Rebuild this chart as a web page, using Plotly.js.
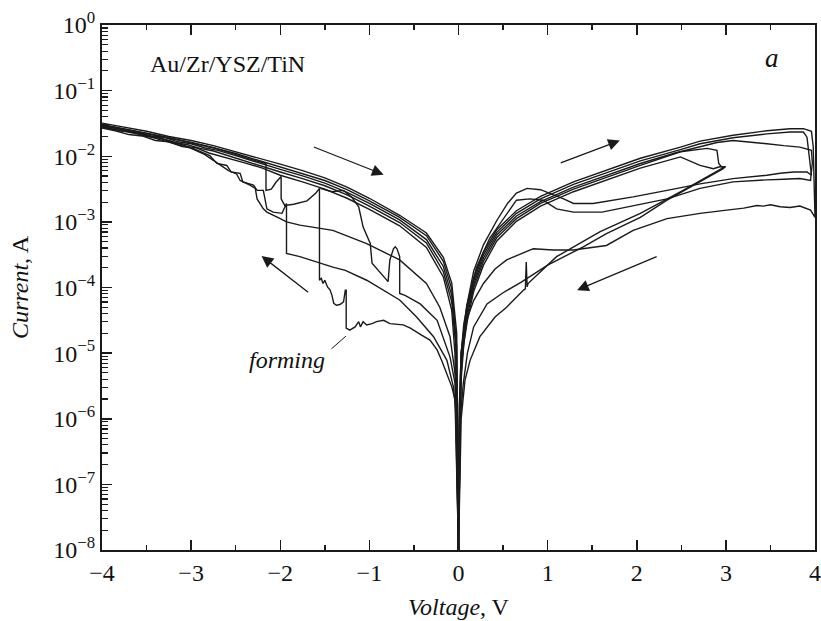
<!DOCTYPE html>
<html>
<head>
<meta charset="utf-8">
<script src="https://cdn.plot.ly/plotly-3.0.1.min.js"></script>
<style>html,body{margin:0;padding:0;background:#fff;}#chart{width:821px;height:621px;}</style>
</head>
<body>
<div id="chart"></div>
<script>
// ---------- negative branch, low-resistance sweeps (-4 V -> 0) ----------
const nl1V = [-4, -3.75, -3.5, -3.25, -3, -2.75, -2.5, -2.25, -2, -1.75, -1.5, -1.25, -1, -0.66, -0.36, -0.17, -0.076, -0.02, 0];
const nl1I = [3.2e-2, 2.75e-2, 2.4e-2, 2.0e-2, 1.74e-2, 1.45e-2, 1.17e-2, 9.55e-3, 7.59e-3, 6.03e-3, 4.68e-3, 3.39e-3, 2.29e-3, 1.26e-3, 6.76e-4, 2.88e-4, 1.17e-4, 2.0e-5, 1e-8];
const nl2V = [-4, -3.75, -3.5, -3.25, -3, -2.75, -2.5, -2.25, -2, -1.75, -1.5, -1.25, -1, -0.66, -0.36, -0.17, -0.076, -0.02, 0];
const nl2I = [3.02e-2, 2.63e-2, 2.24e-2, 1.91e-2, 1.62e-2, 1.35e-2, 1.10e-2, 8.71e-3, 6.92e-3, 5.50e-3, 4.27e-3, 3.09e-3, 2.09e-3, 1.17e-3, 6.17e-4, 2.51e-4, 9.55e-5, 1.26e-5, 1e-8];
const nl3V = [-4, -3.8, -3.6, -3.45, -3.3, -3.15, -3.0, -2.85, -2.7, -2.5, -2.25, -2, -1.75, -1.5, -1.25, -1, -0.66, -0.36, -0.17, -0.076, -0.03, 0];
const nl3I = [2.95e-2, 2.63e-2, 2.34e-2, 2.04e-2, 1.95e-2, 1.66e-2, 1.55e-2, 1.35e-2, 1.23e-2, 1.02e-2, 8.13e-3, 6.31e-3, 5.01e-3, 3.89e-3, 2.82e-3, 1.91e-3, 1.07e-3, 5.37e-4, 2.09e-4, 7.59e-5, 1.58e-5, 1e-8];
const nl4V = [-4, -3.8, -3.65, -3.5, -3.35, -3.2, -3.05, -2.9, -2.75, -2.5, -2.25, -2, -1.75, -1.5, -1.25, -1, -0.66, -0.36, -0.17, -0.076, -0.03, 0];
const nl4I = [2.82e-2, 2.45e-2, 2.34e-2, 2.0e-2, 1.91e-2, 1.62e-2, 1.51e-2, 1.32e-2, 1.20e-2, 9.33e-3, 7.41e-3, 5.75e-3, 4.57e-3, 3.55e-3, 2.57e-3, 1.74e-3, 9.77e-4, 4.79e-4, 1.74e-4, 6.03e-5, 1.26e-5, 1e-8];
const nl5V = [-4, -3.85, -3.7, -3.55, -3.4, -3.25, -3.1, -2.95, -2.8, -2.6, -2.4, -2.2, -2, -1.75, -1.5, -1.25, -1, -0.66, -0.36, -0.17, -0.076, -0.04, 0];
const nl5I = [2.69e-2, 2.45e-2, 2.14e-2, 2.04e-2, 1.74e-2, 1.66e-2, 1.41e-2, 1.35e-2, 1.12e-2, 9.55e-3, 7.94e-3, 6.61e-3, 5.13e-3, 4.07e-3, 3.16e-3, 2.29e-3, 1.55e-3, 8.71e-4, 4.07e-4, 1.45e-4, 4.47e-5, 1.0e-5, 1e-8];

// ---------- negative branch, high-resistance sweeps (0 -> -4 V) ----------
const formV = [0, -0.039, -0.076, -0.13, -0.19, -0.24, -0.32, -0.41, -0.47, -0.54, -0.62, -0.69, -0.77, -0.84, -0.92, -0.97, -1.03, -1.07, -1.10, -1.12, -1.16, -1.22, -1.26, -1.26, -1.27, -1.29, -1.33, -1.37, -1.40, -1.42, -1.44, -1.47, -1.50, -1.52, -1.54, -1.56, -1.56, -1.60, -1.70, -1.85, -1.95, -1.99, -1.99, -2.05, -2.10, -2.16, -2.16, -2.30, -2.5, -2.75, -3.0, -3.5, -4.0];
const formI = [1e-8, 1.95e-6, 3.09e-6, 4.90e-6, 7.76e-6, 1.12e-5, 1.58e-5, 1.86e-5, 2.09e-5, 2.40e-5, 2.69e-5, 2.75e-5, 2.82e-5, 3.16e-5, 3.02e-5, 2.82e-5, 2.69e-5, 3.02e-5, 2.51e-5, 3.02e-5, 2.51e-5, 2.24e-5, 2.40e-5, 9.12e-5, 9.12e-5, 6.03e-5, 5.50e-5, 5.37e-5, 5.75e-5, 7.59e-5, 9.12e-5, 1.02e-4, 1.29e-4, 1.15e-4, 1.38e-4, 1.29e-4, 3.24e-3, 2.75e-3, 2.09e-3, 1.86e-3, 1.78e-3, 2.24e-3, 4.90e-3, 3.98e-3, 3.16e-3, 3.02e-3, 7.76e-3, 8.71e-3, 1.07e-2, 1.35e-2, 1.62e-2, 2.24e-2, 3.02e-2];
const wV = [0, -0.039, -0.095, -0.24, -0.43, -0.60, -0.66, -0.66, -0.69, -0.71, -0.73, -0.75, -0.77, -0.79, -0.97, -0.99, -1.07, -1.12, -1.20, -1.29, -1.42, -1.55];
const wI = [1e-8, 3.47e-6, 8.71e-6, 3.16e-5, 5.62e-5, 7.59e-5, 8.13e-5, 2.95e-4, 3.89e-4, 4.17e-4, 3.89e-4, 3.16e-4, 2.63e-4, 1.23e-4, 2.34e-4, 4.68e-4, 8.32e-4, 1.70e-3, 2.40e-3, 3.02e-3, 2.88e-3, 3.24e-3];
const hupV = [0, -0.03, -0.095, -0.21, -0.36, -0.66, -1.03, -1.41, -1.78, -1.93, -2.00, -2.15, -2.19, -2.26, -2.28, -2.34, -2.45, -2.49, -2.58, -2.75, -2.85, -3.0, -3.25, -3.5, -3.75, -4];
const hupI = [1e-8, 3.98e-6, 1.78e-5, 5.01e-5, 1.15e-4, 2.63e-4, 4.68e-4, 7.41e-4, 8.91e-4, 1.0e-3, 1.12e-3, 1.41e-3, 1.58e-3, 2.24e-3, 3.24e-3, 3.63e-3, 4.27e-3, 5.37e-3, 6.03e-3, 8.71e-3, 1.07e-2, 1.32e-2, 1.66e-2, 2.04e-2, 2.40e-2, 2.75e-2];
const hlowV = [0, -0.02, -0.058, -0.13, -0.28, -0.47, -0.66, -1.03, -1.27, -1.41, -1.78, -1.93, -1.93, -1.98, -2.08, -2.15, -2.19, -2.26, -2.30, -2.42, -2.45, -2.55, -2.60, -2.71, -2.79, -3.0, -3.25, -3.5, -3.75, -4];
const hlowI = [1e-8, 1.0e-6, 3.09e-6, 7.76e-6, 1.78e-5, 3.55e-5, 6.46e-5, 1.29e-4, 1.82e-4, 2.04e-4, 2.95e-4, 3.31e-4, 1.91e-3, 1.35e-3, 1.41e-3, 1.58e-3, 3.02e-3, 3.02e-3, 3.63e-3, 4.07e-3, 5.50e-3, 5.75e-3, 7.24e-3, 7.76e-3, 1.02e-2, 1.35e-2, 1.74e-2, 2.09e-2, 2.51e-2, 2.88e-2];

// ---------- positive branch: 0 -> +V (LRS) then back (HRS) ----------
const p1V = [0, 0.01, 0.03, 0.06, 0.1, 0.17, 0.28, 0.43, 0.65, 0.92, 1.29, 1.66, 2.04, 2.49, 2.71, 3.08, 3.46, 3.72, 3.87, 3.96, 3.98, 3.99, 4.0, 3.95, 3.83, 3.72, 3.61, 3.5, 3.42, 3.35, 3.2, 3.01, 2.71, 2.34, 1.96, 1.66, 1.29, 1.06, 0.84, 0.80, 0.54, 0.41, 0.28, 0.17, 0.09, 0.03, 0];
const p1I = [1e-8, 1.58e-6, 1.0e-5, 2.82e-5, 5.62e-5, 1.41e-4, 3.47e-4, 7.59e-4, 1.48e-3, 2.45e-3, 4.07e-3, 6.17e-3, 9.33e-3, 1.38e-2, 1.70e-2, 2.09e-2, 2.45e-2, 2.63e-2, 2.63e-2, 2.40e-2, 1.41e-2, 3.98e-3, 1.17e-3, 1.51e-3, 1.74e-3, 1.66e-3, 1.70e-3, 1.82e-3, 1.74e-3, 1.78e-3, 1.62e-3, 1.51e-3, 1.35e-3, 1.12e-3, 7.41e-4, 4.37e-4, 3.72e-4, 3.72e-4, 3.89e-4, 3.72e-4, 2.63e-4, 1.91e-4, 1.15e-4, 6.31e-5, 3.16e-5, 6.31e-6, 1e-8];
const p2V = [0, 0.01, 0.03, 0.06, 0.1, 0.17, 0.28, 0.43, 0.65, 0.92, 1.29, 1.66, 2.04, 2.49, 2.71, 3.08, 3.46, 3.72, 3.87, 3.91, 3.95, 3.96, 3.91, 3.76, 3.61, 3.46, 3.08, 2.71, 2.34, 1.96, 1.51, 1.29, 1.18, 1.03, 0.92, 0.77, 0.65, 0.55, 0.43, 0.28, 0.17, 0.09, 0.03, 0.01, 0];
const p2I = [1e-8, 1.26e-6, 7.94e-6, 2.40e-5, 5.01e-5, 1.26e-4, 3.16e-4, 6.92e-4, 1.35e-3, 2.24e-3, 3.72e-3, 5.62e-3, 8.51e-3, 1.26e-2, 1.55e-2, 1.91e-2, 2.19e-2, 2.34e-2, 2.34e-2, 1.95e-2, 5.50e-3, 5.13e-3, 5.75e-3, 5.75e-3, 5.50e-3, 5.13e-3, 4.57e-3, 3.80e-3, 3.02e-3, 2.40e-3, 1.91e-3, 1.91e-3, 2.24e-3, 2.69e-3, 3.09e-3, 3.24e-3, 2.75e-3, 1.91e-3, 1.05e-3, 4.47e-4, 1.78e-4, 5.01e-5, 1.0e-5, 1.58e-6, 1e-8];
const p3V = [0, 0.01, 0.03, 0.06, 0.1, 0.17, 0.28, 0.43, 0.65, 0.92, 1.29, 1.66, 2.04, 2.43, 2.71, 2.90, 3.08, 3.27, 3.46, 3.65, 3.83, 3.96, 3.97, 3.95, 3.83, 3.65, 3.46, 3.08, 2.71, 2.34, 1.96, 1.61, 1.29, 1.10, 0.95, 0.80, 0.65, 0.5, 0.35, 0.2, 0.1, 0.03, 0];
const p3I = [1e-8, 1.0e-6, 6.31e-6, 2.0e-5, 4.47e-5, 1.12e-4, 2.82e-4, 6.31e-4, 1.23e-3, 2.04e-3, 3.39e-3, 5.13e-3, 7.76e-3, 1.12e-2, 1.38e-2, 1.62e-2, 1.74e-2, 1.66e-2, 1.55e-2, 1.45e-2, 1.38e-2, 1.23e-2, 7.94e-3, 4.27e-3, 4.57e-3, 4.47e-3, 4.37e-3, 4.07e-3, 3.24e-3, 2.24e-3, 1.78e-3, 1.41e-3, 1.41e-3, 1.58e-3, 2.14e-3, 2.24e-3, 2.14e-3, 1.12e-3, 5.62e-4, 2.0e-4, 5.62e-5, 1.0e-5, 1e-8];
const p4V = [0, 0.01, 0.03, 0.06, 0.1, 0.17, 0.28, 0.43, 0.65, 0.92, 1.29, 1.66, 2.04, 2.49, 2.79, 2.90, 2.92, 2.95, 3.0, 2.99, 2.52, 2.04, 1.59, 1.10, 0.78, 0.77, 0.76, 0.75, 0.73, 0.54, 0.41, 0.24, 0.13, 0.073, 0.03, 0];
const p4I = [1e-8, 7.94e-7, 5.01e-6, 1.66e-5, 3.80e-5, 1.0e-4, 2.51e-4, 5.75e-4, 1.12e-3, 1.91e-3, 3.16e-3, 4.79e-3, 7.24e-3, 1.17e-2, 1.32e-2, 1.23e-2, 7.76e-3, 6.92e-3, 6.92e-3, 6.92e-3, 3.02e-3, 1.35e-3, 7.08e-4, 2.95e-4, 1.15e-4, 1.02e-4, 2.45e-4, 9.55e-5, 9.12e-5, 5.01e-5, 3.55e-5, 1.78e-5, 7.76e-6, 3.89e-6, 1.0e-6, 1e-8];
const p5V = [0, 0.01, 0.03, 0.06, 0.1, 0.17, 0.28, 0.43, 0.65, 0.92, 1.29, 1.66, 2.04, 2.49, 2.71, 2.86, 2.93, 2.99, 2.97, 2.34, 2.04, 1.66, 1.40, 1.0, 0.7, 0.5, 0.32, 0.17, 0.10, 0.054, 0.02, 0];
const p5I = [1e-8, 6.31e-7, 3.98e-6, 1.41e-5, 3.16e-5, 8.71e-5, 2.19e-4, 5.13e-4, 1.02e-3, 1.74e-3, 2.88e-3, 4.37e-3, 6.61e-3, 9.77e-3, 7.24e-3, 6.46e-3, 6.92e-3, 6.92e-3, 6.46e-3, 2.14e-3, 1.17e-3, 6.61e-4, 4.17e-4, 2.19e-4, 1.20e-4, 8.32e-5, 5.62e-5, 2.51e-5, 1.0e-5, 3.47e-6, 1.0e-6, 1e-8];

// ---------- axis ticks ----------
const xTicks = [-4, -3, -2, -1, 0, 1, 2, 3, 4];
const xMinor = [-3.5, -2.5, -1.5, -0.5, 0.5, 1.5, 2.5, 3.5];
const yTicks = [1e-8, 1e-7, 1e-6, 1e-5, 1e-4, 1e-3, 1e-2, 1e-1, 1];
const yTickText = ['10<sup>−8</sup>', '10<sup>−7</sup>', '10<sup>−6</sup>', '10<sup>−5</sup>', '10<sup>−4</sup>', '10<sup>−3</sup>', '10<sup>−2</sup>', '10<sup>−1</sup>', '10<sup>0</sup>'];
const yMinorMult = [2, 3, 4, 5, 6, 7, 8, 9];

const series = [
  [nl1V, nl1I], [nl2V, nl2I], [nl3V, nl3I], [nl4V, nl4I], [nl5V, nl5I],
  [formV, formI], [wV, wI], [hupV, hupI], [hlowV, hlowI],
  [p1V, p1I], [p2V, p2I], [p3V, p3I], [p4V, p4I], [p5V, p5I]
];
const ink = '#1a1a1a';
const traces = series.map(s => ({
  x: s[0], y: s[1], type: 'scatter', mode: 'lines',
  line: {color: ink, width: 1.4}, hoverinfo: 'skip', showlegend: false
}));

const yMinor = [];
for (let i = 0; i < yTicks.length - 1; i++) {
  yMinorMult.forEach(m => yMinor.push(m * yTicks[i]));
}

const F = 'Liberation Serif';
const txt = {family: F, size: 24, color: '#111'};
function arrow(hx, hy, tx, ty) {
  return {x: hx, y: hy, ax: tx, ay: ty, xref: 'x', yref: 'y', axref: 'x', ayref: 'y',
    text: '', showarrow: true, arrowhead: 2, arrowsize: 1.8, arrowwidth: 1.3, arrowcolor: ink};
}

const layout = {
  width: 821, height: 621,
  margin: {l: 102, r: 6, t: 25, b: 71},
  paper_bgcolor: '#fff', plot_bgcolor: '#fff',
  font: txt,
  showlegend: false,
  xaxis: {
    range: [-4, 4], tickmode: 'array', tickvals: xTicks,
    ticks: 'inside', ticklen: 10, tickwidth: 1.5, tickcolor: ink,
    showline: true, linewidth: 2, linecolor: ink, mirror: 'ticks',
    showgrid: false, zeroline: false,
    tickfont: txt,
    minor: {tickmode: 'array', tickvals: xMinor, ticks: 'inside', ticklen: 5, tickwidth: 1.5, tickcolor: ink, showgrid: false},
    title: {text: '<i>Voltage</i>, V', font: txt, standoff: 13}
  },
  yaxis: {
    type: 'log', range: [-8, 0], tickmode: 'array', tickvals: yTicks, ticktext: yTickText,
    ticks: 'inside', ticklen: 10, tickwidth: 1.5, tickcolor: ink,
    showline: true, linewidth: 2, linecolor: ink, mirror: true,
    showgrid: false, zeroline: false,
    tickfont: txt,
    minor: {tickmode: 'array', tickvals: yMinor, ticks: 'inside', ticklen: 6, tickwidth: 1.2, tickcolor: ink, showgrid: false},
    title: {text: '<i>Current</i>, A', font: txt, standoff: 18}
  },
  annotations: [
    {xref: 'paper', yref: 'paper', x: 0.064, y: 0.925, xanchor: 'left', yanchor: 'middle',
     text: 'Au/Zr/YSZ/TiN', showarrow: false, font: txt},
    {xref: 'paper', yref: 'paper', x: 0.94, y: 0.938, xanchor: 'center', yanchor: 'middle',
     text: '<i>a</i>', showarrow: false, font: {family: F, size: 27, color: '#111'}},
    {xref: 'paper', yref: 'paper', x: 0.26, y: 0.362, xanchor: 'center', yanchor: 'middle',
     text: '<i>forming</i>', showarrow: false, font: txt},
    {x: -1.263, y: -4.741, ax: -1.442, ay: -4.954, xref: 'x', yref: 'y', axref: 'x', ayref: 'y',
     text: '', showarrow: true, arrowhead: 0, arrowwidth: 1, arrowcolor: ink},
    arrow(-0.84, -2.28, -1.64, -1.85),
    arrow(-2.21, -3.52, -1.67, -4.09),
    arrow(1.81, -1.76, 1.13, -2.11),
    arrow(1.33, -4.04, 2.24, -3.52)
  ]
};

Plotly.newPlot('chart', traces, layout, {displayModeBar: false, staticPlot: true});
</script>
</body>
</html>
